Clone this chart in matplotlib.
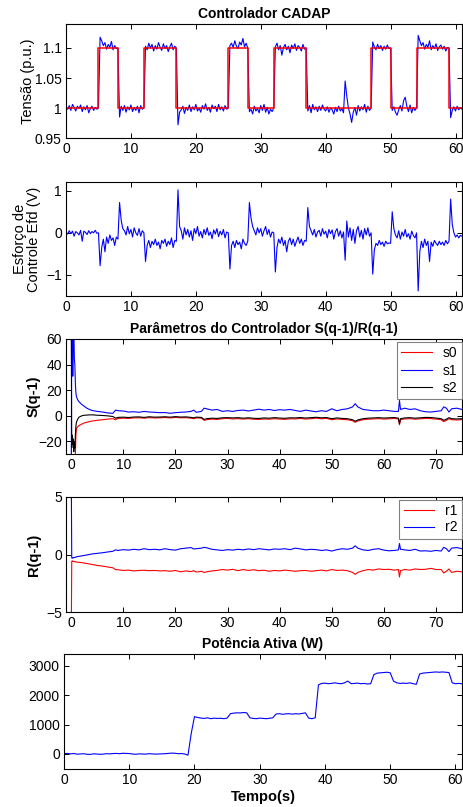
import numpy as np
import matplotlib
matplotlib.use("Agg")
import matplotlib.pyplot as plt

plt.rcParams['font.family'] = ['Liberation Sans', 'DejaVu Sans']

# ---------------- Tensão: referência (degraus) e saída medida ----------------
ref_times = [0, 5, 8, 12, 17, 25, 28, 32, 37, 47, 50, 54, 59, 61]
ref_levels = [1.0, 1.1, 1.0, 1.1, 1.0, 1.1, 1.0, 1.1, 1.0, 1.1, 1.0, 1.1, 1.0, 1.0]

t_fast = np.arange(0, 61.0001, 0.25)

tensao = [
    1.000, 0.998, 1.004, 0.996,  1.006, 1.001, 0.995, 1.003,
    0.999, 1.005, 0.994, 1.002,  0.997, 1.004, 0.992, 0.999,
    1.003, 0.996, 1.001, 0.998,  1.000, 1.118, 1.112, 1.104,
    1.109, 1.098, 1.106, 1.101,  1.111, 1.097, 1.104, 1.099,
    1.100, 0.985, 1.003, 0.996,  1.004, 0.993, 1.002, 0.997,
    1.005, 0.994, 1.001, 0.996,  1.003, 0.992, 1.004, 0.998,
    1.000, 1.103, 1.097, 1.108,  1.100, 1.106, 1.095, 1.104,
    1.098, 1.109, 1.101, 1.096,  1.107, 1.099, 1.104, 1.094,
    1.102, 1.108, 1.097, 1.103,  1.100, 0.972, 0.993, 0.997,
    1.003, 0.991, 1.001, 0.996,  1.005, 0.994, 1.002, 0.997,
    1.006, 0.995, 1.000, 0.993,  1.004, 0.998, 1.007, 0.996,
    1.001, 0.993, 1.005, 0.999,  1.003, 0.994, 1.006, 0.997,
    1.002, 0.995, 1.004, 0.998,  1.000, 1.104, 1.108, 1.101,
    1.112, 1.103, 1.099, 1.110,  1.105, 1.116, 1.102, 1.108,
    1.100, 0.994, 0.998, 0.990,  1.003, 0.995, 0.999, 0.992,
    1.004, 0.996, 1.006, 0.993,  1.001, 0.990, 0.998, 0.994,
    1.000, 1.102, 1.108, 1.097,  1.104, 1.088, 1.101, 1.106,
    1.097, 1.103, 1.092, 1.105,  1.099, 1.107, 1.096, 1.104,
    1.101, 1.095, 1.106, 1.098,  1.100, 0.995, 1.004, 0.992,
    1.006, 0.997, 1.002, 0.994,  1.003, 0.996, 1.005, 0.998,
    0.995, 1.002, 0.993, 1.000,  0.997, 0.990, 1.001, 0.994,
    1.003, 0.995, 0.999, 0.992,  1.045, 1.020, 1.000, 0.990,
    0.976, 0.993, 1.001, 0.988,  1.004, 0.995, 1.002, 0.997,
    1.006, 0.993, 1.003, 0.996,  1.000, 1.110, 1.102, 1.097,
    1.106, 1.099, 1.104, 1.096,  1.103, 1.098, 1.105, 1.099,
    1.100, 0.996, 1.002, 0.993,  0.988, 0.997, 1.004, 0.995,
    1.012, 1.018, 1.003, 0.994,  1.005, 0.992, 1.001, 0.996,
    1.000, 1.121, 1.112, 1.104,  1.109, 1.098, 1.106, 1.101,
    1.112, 1.097, 1.104, 1.099,  1.107, 1.096, 1.102, 1.105,
    1.098, 1.103, 1.095, 1.101,  1.100, 0.984, 0.996, 1.002,
    0.995, 1.003, 0.997, 1.001,  0.998,
]

# ---------------- Esforço de controle Efd ----------------
efd = [
    0.02, -0.03, 0.05, -0.02,   0.04, -0.08, 0.03, 0.00,
    -0.05, 0.06, -0.20, 0.04,   0.01, -0.04, 0.05, -0.02,
    0.03, 0.00, 0.06, -0.01,    0.00, -0.78, -0.35, -0.15,
    -0.45, -0.10, -0.25, -0.05, -0.18, -0.12, -0.30, -0.10,
    -0.15, 0.72, 0.30, 0.10,    0.05, -0.05, 0.15, -0.02,
    0.08, -0.10, 0.12, 0.00,    -0.06, 0.10, -0.08, 0.05,
    0.00, -0.68, -0.30, -0.18,  -0.35, -0.20, -0.28, -0.15,
    -0.30, -0.22, -0.38, -0.18, -0.25, -0.15, -0.32, -0.20,
    -0.28, -0.12, -0.35, -0.18, -0.20, 1.02, 0.15, 0.05,
    -0.15, 0.12, -0.05, 0.08,   -0.10, 0.05, -0.18, 0.10,
    -0.02, 0.15, -0.08, 0.03,   -0.12, 0.08, -0.04, 0.12,
    -0.06, 0.02, -0.14, 0.07,   -0.03, 0.10, -0.09, 0.04,
    -0.05, 0.08, -0.12, 0.02,   0.00, -0.86, -0.30, -0.20,
    -0.35, -0.18, -0.28, -0.22, -0.38, -0.15, -0.25, -0.30,
    -0.20, 0.72, 0.35, 0.15,    0.05, -0.05, 0.12, 0.00,
    0.10, -0.08, 0.05, 0.15,    -0.04, 0.08, -0.10, 0.02,
    0.00, -0.93, -0.35, -0.15,  -0.25, -0.10, -0.30, -0.18,
    -0.45, -0.20, -0.12, -0.28, -0.15, -0.32, -0.20, -0.10,
    -0.25, -0.15, -0.30, -0.18, -0.20, 0.60, 0.15, 0.05,
    -0.05, 0.08, -0.10, 0.02,   0.06, -0.08, 0.10, -0.03,
    0.04, -0.12, 0.08, -0.02,   0.07, -0.15, 0.03, 0.10,
    -0.08, 0.05, -0.12, 0.02,   -0.65, 0.28, -0.10, 0.12,
    -0.18, 0.08, -0.25, 0.05,   0.15, -0.10, 0.06, -0.15,
    0.10, -0.05, 0.12, -0.08,   0.00, -0.98, -0.40, -0.25,
    -0.30, -0.18, -0.28, -0.22, -0.32, -0.20, -0.26, -0.24,
    -0.25, 0.50, 0.10, -0.05,   -0.12, 0.05, -0.15, 0.02,
    -0.08, 0.08, -0.10, -0.02,  -0.15, 0.04, -0.06, -0.12,
    0.00, -1.38, -0.45, -0.20,  -0.35, -0.15, -0.30, -0.20,
    -0.68, -0.22, -0.32, -0.18, -0.25, -0.30, -0.20, -0.28,
    -0.22, -0.30, -0.18, -0.26, -0.20, 0.80, 0.20, 0.00,
    -0.10, -0.05, -0.12, -0.06, -0.08,
]

# ---------------- Parâmetros do controlador ----------------
t_param = [0, 0.1, 0.2, 0.3, 0.4, 0.5, 0.6, 0.7, 0.8, 0.9,
           1.0, 1.25, 1.5, 2, 2.5, 3, 3.5, 4, 5, 6,
           7, 8, 8.5, 9, 10, 11, 12, 13, 14, 15,
           16, 17, 18, 19, 20, 21, 22, 23, 23.5, 24,
           25, 25.5, 26, 27, 28, 29, 30, 31, 32, 33,
           34, 35, 36, 37, 38, 39, 40, 41, 42, 43,
           44, 45, 46, 47, 48, 49, 50, 51, 52, 53,
           54, 54.5, 55, 56, 57, 58, 59, 60, 61, 62,
           62.8, 63, 63.2, 64, 65, 66, 67, 68, 69, 70,
           71, 71.5, 72, 72.5, 73, 74, 75]

s0 = [-80, -80, -80, -80, -80, -70, -60, -45, -30, -15,
      -10, -8.5, -7.5, -6.5, -5.5, -5.0, -4.5, -4.0, -3.5, -3.0,
      -2.5, -2.2, -3.0, -2.0, -1.8, -2.0, -1.6, -1.5, -1.8, -1.4,
      -1.6, -1.5, -1.3, -1.6, -1.2, -1.5, -1.4, -1.8, -2.2, -1.6,
      -1.8, -3.5, -3.0, -2.5, -2.8, -2.2, -2.0, -2.4, -2.2, -2.5,
      -2.2, -2.6, -2.8, -2.4, -2.6, -2.2, -2.5, -2.7, -2.3, -2.4,
      -2.0, -2.5, -2.2, -1.8, -2.3, -2.0, -3.0, -2.4, -2.8, -3.0,
      -3.8, -5.0, -4.0, -3.0, -2.6, -2.4, -2.2, -2.5, -2.3, -2.0,
      -2.5, -7.0, -3.0, -2.4, -2.2, -2.6, -2.3, -2.0, -2.1, -2.5,
      -3.0, -4.5, -3.5, -2.2, -3.0, -3.2, -3.0]

s1 = [-60, 65, 62, 31, 62, 70, 45, 40, 25, 18,
      15, 12.5, 11, 9, 7.5, 6, 5, 4.2, 3.5, 3,
      2.3, 2.0, 4.5, 4.0, 3.8, 3.0, 3.2, 2.8, 3.5, 3.0,
      2.8, 2.5, 2.6, 2.0, 2.5, 2.8, 3.0, 3.5, 4.5, 2.8,
      3.5, 6.0, 5.5, 4.5, 5.0, 3.5, 4.0, 3.5, 4.2, 4.5,
      3.8, 4.5, 5.2, 4.5, 5.0, 4.2, 4.8, 4.5, 5.0, 4.2,
      3.5, 4.5, 3.8, 3.2, 4.0, 3.5, 5.5, 4.0, 5.0, 5.5,
      7.0, 9.5, 7.0, 5.0, 4.5, 4.0, 4.0, 4.5, 4.0, 3.5,
      3.5, 12.0, 5.0, 6.0, 5.0, 5.5, 4.0, 3.2, 3.0, 3.5,
      4.0, 7.0, 6.0, 3.0, 5.5, 6.0, 5.0]

s2 = [80, -25, -15, -22, -18, -28, -20, -25, -15, -8,
      -5, -2.5, -1.0, 0.0, 0.5, 0.6, 0.8, 0.8, 0.5, 0.3,
      0.0, -0.5, -1.8, -1.2, -1.0, -1.3, -0.9, -0.8, -1.2, -0.7,
      -1.0, -0.9, -0.7, -1.0, -0.6, -0.9, -0.8, -1.2, -1.6, -1.0,
      -1.2, -2.8, -2.2, -1.8, -2.0, -1.5, -1.4, -1.6, -1.4, -1.8,
      -1.5, -1.9, -2.0, -1.6, -1.8, -1.4, -1.7, -1.9, -1.5, -1.6,
      -1.3, -1.7, -1.4, -1.1, -1.5, -1.3, -2.2, -1.6, -2.0, -2.2,
      -3.0, -4.2, -3.2, -2.2, -1.8, -1.6, -1.4, -1.7, -1.5, -1.3,
      -1.8, -6.0, -2.2, -1.6, -1.4, -1.8, -1.5, -1.2, -1.3, -1.7,
      -2.2, -3.5, -2.6, -1.4, -2.2, -2.4, -2.2]

r1 = [-8.0, -0.6, -0.55, -0.6, -0.58, -0.62, -0.6, -0.63, -0.62, -0.64,
      -0.65, -0.66, -0.68, -0.7, -0.74, -0.78, -0.82, -0.86, -0.95, -1.0,
      -1.08, -1.15, -1.3, -1.32, -1.38, -1.35, -1.42, -1.38, -1.36, -1.4,
      -1.38, -1.42, -1.4, -1.45, -1.38, -1.5, -1.42, -1.48, -1.4, -1.52,
      -1.45, -1.55, -1.5, -1.42, -1.38, -1.3, -1.35, -1.28, -1.4, -1.3,
      -1.38, -1.32, -1.4, -1.36, -1.45, -1.38, -1.42, -1.35, -1.4, -1.45,
      -1.4, -1.38, -1.45, -1.4, -1.35, -1.42, -1.3, -1.38, -1.35, -1.4,
      -1.55, -1.72, -1.55, -1.4, -1.3, -1.35, -1.25, -1.3, -1.28, -1.35,
      -1.3, -1.95, -1.4, -1.3, -1.35, -1.25, -1.3, -1.28, -1.2, -1.3,
      -1.3, -1.6, -1.45, -1.25, -1.55, -1.45, -1.5]

r2 = [8.0, -0.3, -0.32, -0.28, -0.3, -0.27, -0.25, -0.26, -0.24, -0.22,
      -0.2, -0.18, -0.16, -0.12, -0.08, -0.04, 0.0, 0.05, 0.1, 0.15,
      0.22, 0.28, 0.4, 0.35, 0.42, 0.38, 0.45, 0.4, 0.5, 0.42,
      0.45, 0.4, 0.5, 0.42, 0.38, 0.5, 0.55, 0.6, 0.48, 0.5,
      0.55, 0.62, 0.58, 0.45, 0.4, 0.35, 0.42, 0.38, 0.45, 0.4,
      0.48, 0.42, 0.5, 0.45, 0.4, 0.48, 0.45, 0.5, 0.42, 0.55,
      0.48, 0.4, 0.45, 0.42, 0.35, 0.4, 0.3, 0.42, 0.5, 0.45,
      0.55, 0.75, 0.55, 0.4, 0.35, 0.45, 0.5, 0.38, 0.32, 0.35,
      0.4, 0.95, 0.45, 0.4, 0.35, 0.45, 0.3, 0.32, 0.28, 0.35,
      0.3, 0.62, 0.5, 0.25, 0.55, 0.6, 0.5]

# ---------------- Potência ativa ----------------
t_slow = np.arange(0, 61.0001, 0.5)

potencia = [
    10, 20, 5, 15, -5, 0, 10, -10, -15, 5,
    0, -10, -5, 10, 5, 15, 20, 10, 25, 20,
    15, 0, -10, 5, 0, -5, 10, 5, -5, 0,
    5, 10, 20, 30, 25, 10, 15, 0, -40, 700,
    1270, 1240, 1220, 1210, 1230, 1200, 1220, 1210, 1215, 1200,
    1220, 1370, 1390, 1400, 1395, 1410, 1400, 1230, 1210, 1200,
    1220, 1210, 1200, 1215, 1230, 1360, 1370, 1350, 1365, 1370,
    1355, 1370, 1360, 1380, 1400, 1220, 1200, 1230, 2350, 2400,
    2410, 2390, 2400, 2420, 2400, 2390, 2420, 2480, 2390, 2400,
    2410, 2390, 2400, 2380, 2390, 2700, 2750, 2760, 2770, 2780,
    2760, 2480, 2420, 2400, 2410, 2400, 2420, 2390, 2370, 2720,
    2750, 2760, 2770, 2780, 2790, 2780, 2790, 2780, 2770, 2420,
    2390, 2400, 2390,
]

W, H = 464, 807
TICK_FS = 10
LABEL_FS = 10.5
TITLE_FS = 10


def place(left, top, right, bottom):
    return [left / W, 1 - bottom / H, (right - left) / W, (bottom - top) / H]


def style(ax):
    ax.tick_params(direction='in', top=True, right=True, length=3.5,
                   width=0.7, labelsize=TICK_FS, pad=3)
    for sp in ax.spines.values():
        sp.set_linewidth(0.8)


fig = plt.figure(figsize=(W / 100, H / 100), dpi=100)

ax1 = fig.add_axes(place(66, 24, 462, 138))
ax2 = fig.add_axes(place(66, 182.3, 462, 296))
ax3 = fig.add_axes(place(66, 339, 462, 454.3))
ax4 = fig.add_axes(place(66, 496.7, 462, 612.3))
ax5 = fig.add_axes(place(64, 654, 462, 768.7))

# Tensão
ax1.plot(t_fast, tensao, color='blue', lw=0.8)
ax1.step(ref_times, ref_levels, where='post', color='red', lw=1.1)
ax1.set_xlim(0, 61)
ax1.set_ylim(0.95, 1.14)
ax1.set_xticks(range(0, 61, 10))
ax1.set_yticks([0.95, 1.0, 1.05, 1.1])
ax1.set_yticklabels(['0.95', '1', '1.05', '1.1'])
ax1.set_title('Controlador CADAP', fontsize=TITLE_FS, fontweight='bold', pad=4)
ax1.set_ylabel('Tensão (p.u.)', fontsize=LABEL_FS, va='center')
ax1.yaxis.set_label_coords(-0.095, 0.5)

# Esforço de controle
ax2.plot(t_fast, efd, color='blue', lw=0.8)
ax2.set_xlim(0, 61)
ax2.set_ylim(-1.5, 1.2)
ax2.set_xticks(range(0, 61, 10))
ax2.set_yticks([-1, 0, 1])
ax2.set_ylabel('Esforço de\nControle Efd (V)', fontsize=LABEL_FS, va='center',
               linespacing=1.05)
ax2.yaxis.set_label_coords(-0.098, 0.5)

# S(q-1)
ax3.plot(t_param, s0, color='red', lw=0.8, label='s0')
ax3.plot(t_param, s1, color='blue', lw=0.8, label='s1')
ax3.plot(t_param, s2, color='black', lw=0.8, label='s2')
ax3.set_xlim(-1, 75)
ax3.set_ylim(-30, 60)
ax3.set_xticks(range(0, 71, 10))
ax3.set_yticks([-20, 0, 20, 40, 60])
ax3.set_title('Parâmetros do Controlador S(q-1)/R(q-1)', fontsize=TITLE_FS,
              fontweight='bold', pad=4)
ax3.set_ylabel('S(q-1)', fontsize=LABEL_FS, fontweight='bold', va='center')
ax3.yaxis.set_label_coords(-0.082, 0.5)
leg3 = ax3.legend(loc='upper right', bbox_to_anchor=(1.0, 0.975),
                  fontsize=TICK_FS, fancybox=False, framealpha=1,
                  edgecolor='#808080', borderaxespad=0, handlelength=2.2,
                  labelspacing=0.25, borderpad=0.3, handletextpad=0.8)
leg3.get_frame().set_linewidth(0.8)

# R(q-1)
ax4.plot(t_param, r1, color='red', lw=0.8, label='r1')
ax4.plot(t_param, r2, color='blue', lw=0.8, label='r2')
ax4.set_xlim(-1, 75)
ax4.set_ylim(-5, 5)
ax4.set_xticks(range(0, 71, 10))
ax4.set_yticks([-5, 0, 5])
ax4.set_ylabel('R(q-1)', fontsize=LABEL_FS, fontweight='bold', va='center')
ax4.yaxis.set_label_coords(-0.08, 0.5)
leg4 = ax4.legend(loc='upper right', bbox_to_anchor=(1.0, 0.97),
                  fontsize=TICK_FS, fancybox=False, framealpha=1,
                  edgecolor='#808080', borderaxespad=0, handlelength=2.2,
                  labelspacing=0.15, borderpad=0.3, handletextpad=0.8)
leg4.get_frame().set_linewidth(0.8)

# Potência ativa
ax5.plot(t_slow, potencia, color='blue', lw=0.8)
ax5.set_xlim(0, 61)
ax5.set_ylim(-500, 3400)
ax5.set_xticks(range(0, 61, 10))
ax5.set_yticks([0, 1000, 2000, 3000])
ax5.set_title('Potência Ativa (W)', fontsize=TITLE_FS, fontweight='bold', pad=4)
ax5.set_xlabel('Tempo(s)', fontsize=LABEL_FS, fontweight='bold', labelpad=2)

for ax in (ax1, ax2, ax3, ax4, ax5):
    style(ax)

fig.savefig('out.png', dpi=100)
